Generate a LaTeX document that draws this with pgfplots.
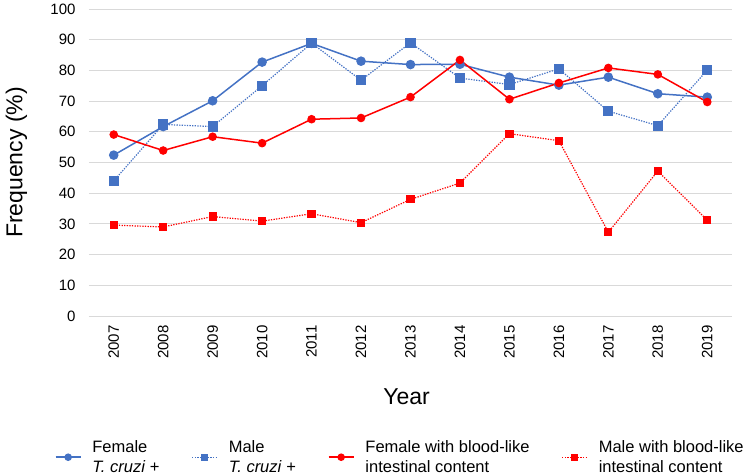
\documentclass[border=0pt]{standalone}
\usepackage{fontspec}
\setmainfont{Liberation Sans}
\usepackage{pgfplots}
\pgfplotsset{compat=1.18}
\definecolor{xblue}{HTML}{4472C4}
\definecolor{xred}{HTML}{FF0000}
\definecolor{xgrid}{HTML}{D9D9D9}
\begin{document}
\begin{tikzpicture}[x=1pt,y=1pt]
\useasboundingbox (0,0) rectangle (748,476);
\begin{axis}[
  at={(89pt,160pt)}, anchor=south west,
  scale only axis, width=643pt, height=307pt,
  xmin=-0.5, xmax=12.5, ymin=0, ymax=100,
  xtick={0,...,12},
  xticklabels={2007,2008,2009,2010,2011,2012,2013,2014,2015,2016,2017,2018,2019},
  ytick={0,10,...,100},
  ymajorgrids, major grid style={xgrid, line width=0.8pt},
  axis line style={draw=none},
  major tick length=0pt,
  /pgf/number format/assume math mode=true,
  tick label style={font=\fontsize{15}{18}\selectfont},
  xticklabel style={rotate=90, anchor=east, xshift=-6pt},
  yticklabel style={xshift=-10pt},
  xlabel={Year}, ylabel={Frequency (\%)},
  every axis x label/.style={at={(rel axis cs:0.494,-0.264)}, anchor=center, font=\fontsize{23}{27}\selectfont},
  every axis y label/.style={at={(rel axis cs:-0.113,0.5)}, rotate=90, anchor=center, font=\fontsize{23}{27}\selectfont},
  every axis plot/.append style={legend image code/.code={
    \draw[mark repeat=2, mark phase=2, mark size=3pt, #1] plot coordinates {(0pt,0pt) (12.5pt,0pt) (25pt,0pt)};}},
  legend columns=4,
  legend style={draw=none, at={(rel axis cs:-0.058,-0.46)}, anchor=west,
    font=\fontsize{16.5}{20}\selectfont, cells={align=left, anchor=west},
    /tikz/every odd column/.append style={column sep=9pt},
    /tikz/every even column/.append style={column sep=30pt}},
]
\addplot[xblue, line width=1.5pt, mark=*, mark size=4pt] coordinates {
(0,52.4) (1,61.7) (2,70.1) (3,82.7) (4,88.8) (5,83.0) (6,81.9) (7,82.0) (8,77.8) (9,75.2) (10,77.8) (11,72.4) (12,71.3)};
\addlegendentry{Female\\\textit{T. cruzi} +}
\addplot[xblue, line width=1.2pt, dash pattern=on 1.3pt off 1.3pt, mark=square*, mark size=4.5pt, mark options={solid}] coordinates {
(0,44.0) (1,62.4) (2,61.7) (3,75.0) (4,88.9) (5,76.8) (6,89.0) (7,77.5) (8,75.4) (9,80.5) (10,66.7) (11,62.0) (12,80.1)};
\addlegendentry{Male\\\textit{T. cruzi} +}
\addplot[xred, line width=1.5pt, mark=*, mark size=3.5pt] coordinates {
(0,59.1) (1,53.9) (2,58.4) (3,56.3) (4,64.1) (5,64.5) (6,71.3) (7,83.4) (8,70.6) (9,75.9) (10,80.8) (11,78.7) (12,69.7)};
\addlegendentry{Female with blood-like\\intestinal content}
\addplot[xred, line width=1.2pt, dash pattern=on 1.3pt off 1.3pt, mark=square*, mark size=3.5pt, mark options={solid}] coordinates {
(0,29.6) (1,29.0) (2,32.4) (3,30.9) (4,33.3) (5,30.4) (6,38.0) (7,43.3) (8,59.4) (9,57.1) (10,27.3) (11,47.2) (12,31.2)};
\addlegendentry{Male with blood-like\\intestinal content}
\end{axis}
\end{tikzpicture}
\end{document}
